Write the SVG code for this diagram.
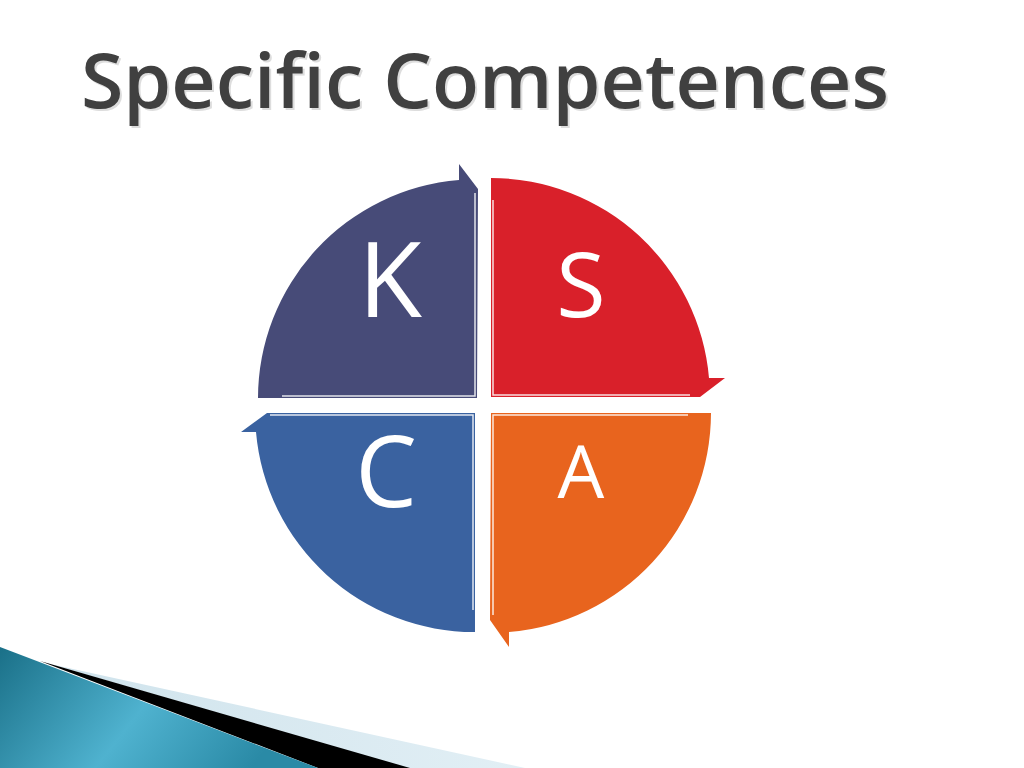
<svg xmlns="http://www.w3.org/2000/svg" width="1024" height="768" viewBox="0 0 1024 768">
  <defs>
    <style>
      .title { font-family: "Open Sans", "Noto Sans", "Liberation Sans", sans-serif; font-weight: 600; font-size: 76px; }
      .letter { font-family: "Open Sans", "Noto Sans", "Liberation Sans", sans-serif; fill: #ffffff; text-anchor: middle; }
      .inner { stroke: #ffffff; stroke-width: 1.5; fill: none; opacity: 0.85; }
    </style>
    <linearGradient id="teal" x1="0" y1="0" x2="1" y2="0.3">
      <stop offset="0" stop-color="#1a7088"/>
      <stop offset="0.55" stop-color="#4fb2cf"/>
      <stop offset="1" stop-color="#2a8aa6"/>
    </linearGradient>
    <linearGradient id="pale" x1="0" y1="0" x2="1" y2="0">
      <stop offset="0" stop-color="#cfe3ec"/>
      <stop offset="1" stop-color="#e2eff5"/>
    </linearGradient>
  </defs>
  <rect width="1024" height="768" fill="#ffffff"/>

  <g id="title">
    <text class="title" x="83" y="110" fill="#b5b5b5" opacity="0.45" textLength="808" lengthAdjust="spacingAndGlyphs">Specific Competences</text>
    <text class="title" x="81" y="108" fill="#404040" textLength="808" lengthAdjust="spacingAndGlyphs">Specific Competences</text>
  </g>

  <g id="decoration">
    <polygon points="50,664 525,768 405,768" fill="url(#pale)"/>
    <polygon points="40,661 410,768 318,768" fill="#000000"/>
    <polygon points="0,647 318,768 0,768" fill="url(#teal)"/>
  </g>

  <g id="node-K">
    <path d="M477,398 L258,398 A219,219 0 0 1 459,180 L459,164 L478,189 L477,398 Z" fill="#474b78"/>
    <polyline class="inner" points="282,396 475,396 475,193"/>
    <text class="letter" x="390" y="317" font-size="104">K</text>
  </g>

  <g id="node-S">
    <path d="M491,397 L491,178 A219,219 0 0 1 709,378 L725,378 L700,397 Z" fill="#d9202a"/>
    <polyline class="inner" points="493,200 493,395 690,395"/>
    <text class="letter" x="581" y="317" font-size="90">S</text>
  </g>

  <g id="node-C">
    <path d="M475,413 L475,632 A219,219 0 0 1 256,432 L241,432 L267,413 Z" fill="#3a62a0"/>
    <polyline class="inner" points="270,415 473,415 473,610"/>
    <text class="letter" x="386" y="507" font-size="98">C</text>
  </g>

  <g id="node-A">
    <path d="M491,413 L711,413 A220,220 0 0 1 509,632 L509,647 L490,620 Z" fill="#e8641e"/>
    <polyline class="inner" points="493,615 493,415 688,415"/>
    <text class="letter" x="581" y="498" font-size="74">A</text>
  </g>

  <g id="connectors"></g>
</svg>
